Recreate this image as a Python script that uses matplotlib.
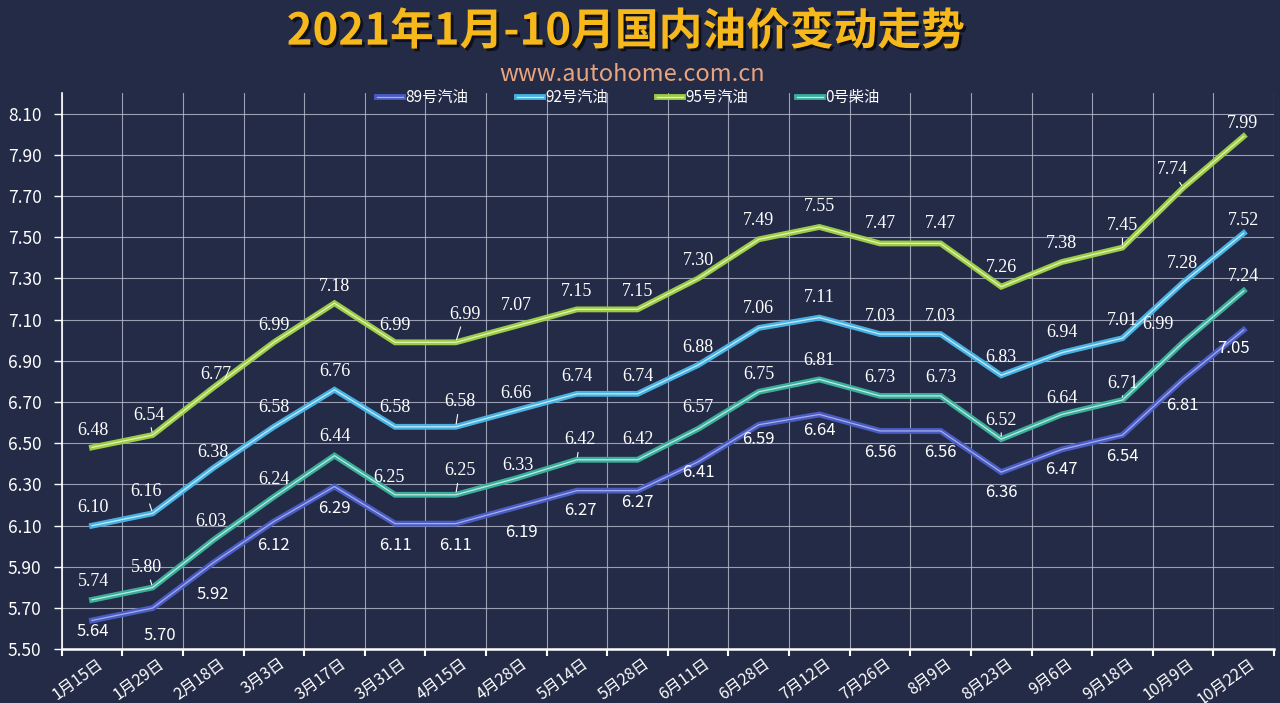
import matplotlib
matplotlib.use("Agg")
import matplotlib.pyplot as plt
import matplotlib.patheffects as pe
import numpy as np

plt.rcParams['font.family'] = ['Noto Sans CJK SC', 'DejaVu Sans']

dates = ["1月15日", "1月29日", "2月18日", "3月3日", "3月17日", "3月31日", "4月15日", "4月28日",
         "5月14日", "5月28日", "6月11日", "6月28日", "7月12日", "7月26日", "8月9日", "8月23日",
         "9月6日", "9月18日", "10月9日", "10月22日"]
g89 = [5.64, 5.70, 5.92, 6.12, 6.29, 6.11, 6.11, 6.19, 6.27, 6.27, 6.41, 6.59, 6.64, 6.56, 6.56, 6.36, 6.47, 6.54, 6.81, 7.05]
g92 = [6.10, 6.16, 6.38, 6.58, 6.76, 6.58, 6.58, 6.66, 6.74, 6.74, 6.88, 7.06, 7.11, 7.03, 7.03, 6.83, 6.94, 7.01, 7.28, 7.52]
g95 = [6.48, 6.54, 6.77, 6.99, 7.18, 6.99, 6.99, 7.07, 7.15, 7.15, 7.30, 7.49, 7.55, 7.47, 7.47, 7.26, 7.38, 7.45, 7.74, 7.99]
d0 = [5.74, 5.80, 6.03, 6.24, 6.44, 6.25, 6.25, 6.33, 6.42, 6.42, 6.57, 6.75, 6.81, 6.73, 6.73, 6.52, 6.64, 6.71, 6.99, 7.24]
names = ["89号汽油", "92号汽油", "95号汽油", "0号柴油"]
yticks = [5.50, 5.70, 5.90, 6.10, 6.30, 6.50, 6.70, 6.90, 7.10, 7.30, 7.50, 7.70, 7.90, 8.10]

# label placement (pixel offsets), styles
off95 = [(1, 17), (-4, 20), (3, 13), (0, 17), (0, 17), (0, 17), (9, 28), (0, 20), (0, 18), (0, 18),
         (0, 18), (0, 19), (0, 20), (0, 20), (0, 20), (0, 19), (0, 19), (0, 22), (-11, 18), (-1, 13)]
off92 = [(1, 18), (-7, 22), (0, 16), (0, 19), (0, 18), (0, 19), (4, 25), (0, 17), (0, 17), (0, 17),
         (0, 18), (0, 19), (0, 20), (0, 18), (0, 18), (0, 18), (0, 20), (0, 18), (-1, 19), (0, 13)]
off0 = [(1, 18), (-6, 20), (-2, 19), (0, 17), (0, 19), (-6, 17), (4, 24), (2, 13), (3, 20), (0, 20),
        (0, 21), (0, 17), (0, 19), (0, 18), (0, 18), (0, 19), (0, 16), (0, 17), (-25, 18), (0, 14)]
off89 = [(1, -11), (7, -27), (0, -32), (0, -24), (0, -22), (0, -22), (0, -22), (5, -25), (3, -20), (0, -12),
         (0, -11), (0, -15), (0, -16), (0, -22), (0, -22), (0, -20), (0, -20), (0, -21), (-1, -26), (-10, -19)]
lead95 = {1, 6, 17, 18}
lead92 = {1, 6}
lead0 = {1, 6, 8, 15, 17}
lead89 = set()

bg = "#242b47"
fig = plt.figure(figsize=(12.8, 7.03), dpi=100, facecolor=bg)
ax = fig.add_axes([0.0482, 0.0764, 0.9471, 0.7912])
ax.set_facecolor(bg)

x = np.arange(len(dates))
series = [
    (g89, "#4a5cc4", "#a3aeea", off89, lead89, "Noto Sans CJK SC", 12),
    (g92, "#47b2e2", "#c4eafa", off92, lead92, "Liberation Serif", 13),
    (g95, "#9ccc45", "#e2f3b8", off95, lead95, "Liberation Serif", 13),
    (d0, "#3aae9c", "#bfeade", off0, lead0, "Liberation Serif", 13),
]

handles = []
for (vals, col, light, offs, leads, fam, fs), name in zip(series, names):
    ln, = ax.plot(x, vals, color=light, lw=0.9, solid_joinstyle='miter', zorder=3,
                  path_effects=[pe.Stroke(linewidth=4.2, foreground=col), pe.Normal()],
                  label=name)
    handles.append(ln)
    for i, v in enumerate(vals):
        dx, dy = offs[i]
        kw = {}
        if i in leads:
            kw['arrowprops'] = dict(arrowstyle='-', color='white', lw=0.8, shrinkA=1, shrinkB=2)
        ax.annotate(f"{v:.2f}", xy=(i, v), xytext=(dx, dy), textcoords='offset pixels',
                    ha='center', va='center', color='white', fontsize=fs,
                    family=[fam, 'DejaVu Sans'], zorder=5, **kw)

ax.set_xlim(-0.5, len(dates) - 0.5)
ax.set_ylim(5.5, 8.2)
ax.set_yticks(yticks)
ax.set_yticklabels([f"{t:.2f}" for t in yticks])
ax.set_xticks(x + 0.08)
ax.set_xticklabels(dates, rotation=36, ha='right', va='top', rotation_mode='anchor')
ax.set_xticks(np.arange(-0.5, len(dates), 1.0), minor=True)

ax.tick_params(axis='x', which='major', length=0, pad=4, labelsize=11.5, colors='white')
ax.tick_params(axis='x', which='minor', length=5, width=1.5, color='white', direction='out')
ax.tick_params(axis='y', length=5.5, width=1.0, color='white', pad=9, labelsize=12.5, labelcolor='white')

ax.grid(True, axis='y', which='major', color='#b9bdd0', lw=0.8, alpha=0.8)
ax.grid(True, axis='x', which='minor', color='#b9bdd0', lw=0.8, alpha=0.8)
ax.grid(False, axis='x', which='major')

for s in ['top', 'right']:
    ax.spines[s].set_visible(False)
for s in ['left', 'bottom']:
    ax.spines[s].set_color('white')
ax.spines['bottom'].set_linewidth(1.8)
ax.spines['left'].set_linewidth(1.2)

fig.text(0.489, 0.955, "2021年1月-10月国内油价变动走势", ha='center', va='center',
         fontsize=31.5, fontweight='bold', color='#f7b81c',
         path_effects=[pe.withSimplePatchShadow(offset=(2, -2), shadow_rgbFace='black', alpha=0.6)])
fig.text(0.494, 0.894, "www.autohome.com.cn", ha='center', va='center',
         fontsize=17, color='#e8a47e')

leg = fig.legend(handles=handles, loc='center', bbox_to_anchor=(0.491, 0.861), ncol=4,
                 frameon=False, fontsize=11, labelcolor='white', handlelength=1.7,
                 handletextpad=0.15, columnspacing=3.2)

fig.savefig("out.png", dpi=100, facecolor=bg)
